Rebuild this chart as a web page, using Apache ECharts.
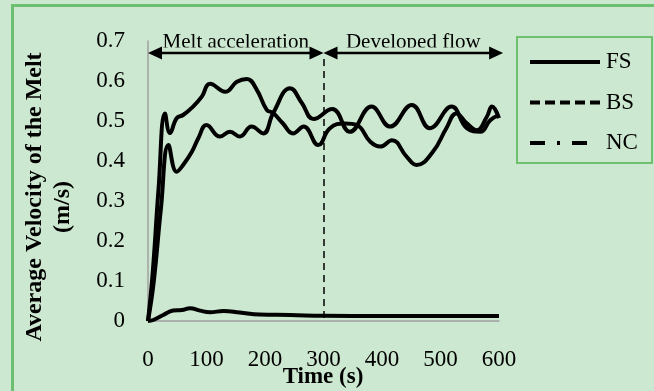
<!DOCTYPE html>
<html>
<head>
<meta charset="utf-8">
<script src="https://cdn.jsdelivr.net/npm/echarts@6/dist/echarts.min.js"></script>
<style>
  html, body { margin: 0; padding: 0; background: #cde8d0; }
  #chart { width: 654px; height: 391px; }
</style>
</head>
<body>
<div id="chart"></div>
<script>
// Time (s) and average melt velocity (m/s) for each case
const timeFS = [0, 8, 18, 29, 37.6, 49, 60, 77, 92, 106, 132, 152, 169, 186, 203, 214, 230, 248, 266, 291, 311, 337, 357, 380, 397, 417, 442, 459, 487, 510, 527, 545, 562, 579, 588, 600];
const velFS  = [0, 0.12, 0.33, 0.519, 0.47, 0.507, 0.515, 0.536, 0.561, 0.593, 0.573, 0.598, 0.605, 0.578, 0.528, 0.52, 0.495, 0.469, 0.486, 0.44, 0.482, 0.494, 0.49, 0.448, 0.436, 0.452, 0.411, 0.39, 0.423, 0.482, 0.519, 0.494, 0.477, 0.51, 0.536, 0.507];

const timeBS = [0, 10, 22, 35, 49, 60, 75, 86, 100, 123, 140, 157, 177, 197, 214, 243, 263, 283, 315, 345, 382, 414, 451, 482, 519, 545, 568, 585, 600];
const velBS  = [0, 0.1, 0.28, 0.44, 0.373, 0.39, 0.423, 0.457, 0.49, 0.461, 0.473, 0.461, 0.486, 0.469, 0.52, 0.582, 0.545, 0.505, 0.53, 0.473, 0.536, 0.486, 0.54, 0.482, 0.536, 0.482, 0.473, 0.502, 0.515];

const timeNC = [0, 9, 26, 43, 58, 72, 89, 106, 129, 157, 191, 243, 300, 400, 500, 600];
const velNC  = [0, 0.0025, 0.015, 0.026, 0.0275, 0.032, 0.026, 0.022, 0.025, 0.021, 0.016, 0.015, 0.013, 0.0125, 0.0125, 0.0125];

const yTickLabels = ['0', '0.1', '0.2', '0.3', '0.4', '0.5', '0.6', '0.7'];
const xTickLabels = ['0', '100', '200', '300', '400', '500', '600'];

// Legend entries and their stroke patterns
const caseNames = ['FS', 'BS', 'NC'];
const caseDashes = [null, [10, 5], [15, 12, 3, 12, 15, 20]];

// Flow stages marked above the curves
const stageNames = ['Melt acceleration', 'Developed flow'];
const stageBounds = [0, 300, 607];
const stageY = 0.67;

const SERIF = '"Liberation Serif", "Times New Roman", serif';
const BG = '#cde8d0';
const FRAME = '#6cc070';

const pairs = (xs, ys) => xs.map((x, i) => [x, ys[i]]);

const chart = echarts.init(document.getElementById('chart'), null, { renderer: 'canvas' });

const lineSeries = (name, xs, ys) => ({
  name: name,
  type: 'line',
  data: pairs(xs, ys),
  symbol: 'none',
  smooth: 0.45,
  lineStyle: { color: '#000', width: 4 },
  itemStyle: { color: '#000' },
  z: 3
});

chart.setOption({
  animation: false,
  backgroundColor: BG,
  grid: { left: 148, right: 155, top: 41, bottom: 70 },
  xAxis: {
    type: 'value', min: 0, max: 600, interval: 100,
    axisLine: { show: true, lineStyle: { color: '#a0a0a0', width: 1.5 } },
    axisTick: { show: false },
    splitLine: { show: false },
    axisLabel: {
      margin: 27, color: '#000', fontFamily: SERIF, fontSize: 23,
      formatter: (v) => xTickLabels[Math.round(v / 100)]
    }
  },
  yAxis: {
    type: 'value', min: 0, max: 0.7, interval: 0.1,
    axisLine: { show: true, lineStyle: { color: '#a0a0a0', width: 1.5 } },
    axisTick: { show: false },
    splitLine: { show: false },
    axisLabel: {
      margin: 23, color: '#000', fontFamily: SERIF, fontSize: 23,
      formatter: (v) => yTickLabels[Math.round(v * 10)]
    }
  },
  series: [
    lineSeries(caseNames[0], timeFS, velFS),
    Object.assign(lineSeries(caseNames[1], timeBS, velBS), {
      markLine: {
        silent: true, symbol: 'none', label: { show: false },
        lineStyle: { color: '#000', width: 1.5, type: [7, 5] },
        data: [[{ coord: [stageBounds[1], 0.655] }, { coord: [stageBounds[1], 0] }]]
      }
    }),
    lineSeries(caseNames[2], timeNC, velNC)
  ]
});

// Stage arrows, their titles, the legend box and the outer frame
function arrowHead(x, y, dir) {
  const len = 14, half = 6.5;
  return {
    type: 'polygon', z: 20,
    shape: { points: [[x, y], [x - dir * len, y - half], [x - dir * len, y + half]] },
    style: { fill: '#000' }
  };
}

const els = [];
for (let i = 0; i < stageNames.length; i++) {
  const a = chart.convertToPixel({ gridIndex: 0 }, [stageBounds[i], stageY]);
  const b = chart.convertToPixel({ gridIndex: 0 }, [stageBounds[i + 1], stageY]);
  const midX = (a[0] + b[0]) / 2;
  els.push({
    type: 'text', z: 10, x: midX, y: a[1] - 0.5,
    style: { text: stageNames[i], font: '21px ' + SERIF, fill: '#000', align: 'center', verticalAlign: 'bottom' }
  });
  // the caption box trims the lower edge of the titles
  els.push({
    type: 'rect', z: 11,
    shape: { x: a[0] + 15, y: a[1] - 5.5, width: b[0] - a[0] - 30, height: 4.5 },
    style: { fill: BG }
  });
  els.push({
    type: 'line', z: 20,
    shape: { x1: a[0] + 4, y1: a[1], x2: b[0] - 4, y2: b[1] },
    style: { stroke: '#000', lineWidth: 2.5 }
  });
  els.push(arrowHead(a[0], a[1], -1));
  els.push(arrowHead(b[0], b[1], 1));
}

// legend
els.push({
  type: 'rect', z: 15,
  shape: { x: 517, y: 37, width: 135, height: 126 },
  style: { fill: BG, stroke: FRAME, lineWidth: 2 }
});
caseNames.forEach((name, i) => {
  const cy = 62 + i * 40.5;
  els.push({
    type: 'line', z: 16,
    shape: { x1: 530, y1: cy, x2: 600, y2: cy },
    style: { stroke: '#000', lineWidth: 4, lineDash: caseDashes[i] || null, lineCap: 'butt' }
  });
  els.push({
    type: 'text', z: 16, x: 606, y: cy,
    style: { text: name, font: '23px ' + SERIF, fill: '#000', align: 'left', verticalAlign: 'middle' }
  });
});

els.push({
  type: 'text', z: 10, x: 35, y: 197, rotation: Math.PI / 2,
  style: { text: 'Average Velocity of the Melt', font: 'bold 24px ' + SERIF, fill: '#000', align: 'center', verticalAlign: 'middle' }
});
els.push({
  type: 'text', z: 10, x: 63, y: 207, rotation: Math.PI / 2,
  style: { text: '(m/s)', font: 'bold 24px ' + SERIF, fill: '#000', align: 'center', verticalAlign: 'middle' }
});
els.push({
  type: 'text', z: 10, x: 323, y: 377,
  style: { text: 'Time (s)', font: 'bold 23px ' + SERIF, fill: '#000', align: 'center', verticalAlign: 'middle' }
});
els.push({
  type: 'rect', z: 1,
  shape: { x: 12.5, y: 5.5, width: 700, height: 400 },
  style: { fill: 'none', stroke: FRAME, lineWidth: 3 }
});

chart.setOption({ graphic: els });
</script>
</body>
</html>
